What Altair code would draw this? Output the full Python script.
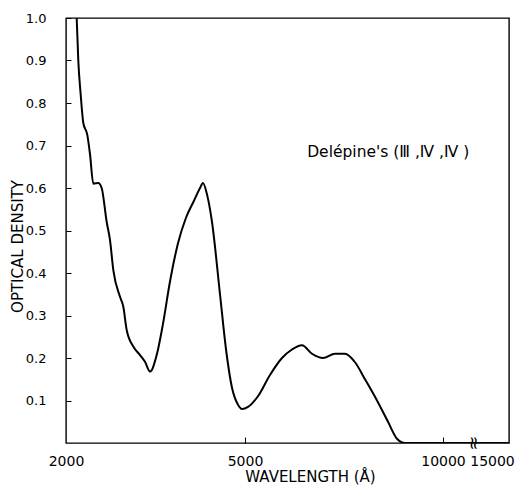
import altair as alt
import pandas as pd

# Spectrum
wavelength = [2179, 2206, 2246, 2290, 2357, 2402, 2458, 2541, 2598, 2682, 2737,
              2793, 2905, 2960, 3017, 3128, 3240, 3324, 3408, 3525, 3625, 3743,
              3877, 4011, 4145, 4246, 4296, 4363, 4447, 4581, 4682, 4782, 4883,
              4950, 5076, 5328, 5631, 5934, 6187, 6439, 6692, 6970, 7273, 7525,
              7778, 8030, 8333, 8611, 8838, 9040, 10000, 13000, 16000]
density = [1.00, 0.90, 0.82, 0.753, 0.725, 0.68, 0.61, 0.612, 0.60, 0.52, 0.478,
           0.407, 0.344, 0.321, 0.266, 0.227, 0.207, 0.191, 0.168, 0.21, 0.28, 0.38,
           0.47, 0.53, 0.57, 0.60, 0.612, 0.585, 0.52, 0.35, 0.22, 0.13, 0.09,
           0.08, 0.085, 0.11, 0.16, 0.20, 0.22, 0.23, 0.21, 0.20, 0.21, 0.21,
           0.19, 0.15, 0.10, 0.05, 0.01, 0.0, 0.0, 0.0, 0.0]

x_tick_values = [2000, 5000, 10000, 15000]
y_tick_values = [0.1, 0.2, 0.3, 0.4, 0.5, 0.6, 0.7, 0.8, 0.9, 1.0]
annotation = "Delépine's (Ⅲ ,Ⅳ ,Ⅳ )"
break_symbol = "≈"

df = pd.DataFrame({"wl": wavelength, "od": density})
ann = pd.DataFrame({"wl": [6570], "od": [0.685], "t": [annotation]})
brk = pd.DataFrame({"wl": [13060], "od": [0.0], "t": [break_symbol]})

FONT = "DejaVu Sans"
W, H = 443, 425

# broken wavelength axis: piecewise linear
x_scale = alt.Scale(domain=[2000, 5000, 10000, 15000, 16000],
                    range=[0, 179, 377, 426, W], nice=False, zero=False)
y_scale = alt.Scale(domain=[0, 1], nice=False)

x_axis = alt.Axis(
    values=x_tick_values,
    labelExpr="format(datum.value, 'd')",
    domain=False, grid=False,
    tickSize=6, offset=-6, tickColor="black",
    tickOpacity={"condition": {"test": "datum.value > 11000 || datum.value < 2500", "value": 0}, "value": 1},
    labelPadding=11, labelFontSize=14, labelFont=FONT, labelColor="black",
    labelFlush=False,
    title="WAVELENGTH (Å)", titleFont=FONT, titleFontSize=15, titleFontWeight="normal",
    titleColor="black", titlePadding=1, titleX=244,
)
y_axis = alt.Axis(
    values=y_tick_values, format=".1f",
    domain=False, grid=False,
    tickSize=5, offset=-5, tickColor="black",
    labelPadding=20, labelFontSize=13, labelFont=FONT, labelColor="black",
    title="OPTICAL DENSITY", titleFont=FONT, titleFontSize=15, titleFontWeight="normal",
    titleColor="black", titlePadding=0, titleY=228,
)

line = alt.Chart(df).mark_line(color="black", strokeWidth=2, clip=True, interpolate="monotone").encode(
    x=alt.X("wl:Q", scale=x_scale, axis=x_axis),
    y=alt.Y("od:Q", scale=y_scale, axis=y_axis),
)

label = alt.Chart(ann).mark_text(align="left", baseline="middle", font=FONT, fontSize=15.5, color="black").encode(
    x=alt.X("wl:Q", scale=x_scale), y=alt.Y("od:Q", scale=y_scale), text="t:N"
)

brk_mark = alt.Chart(brk).mark_text(align="center", baseline="middle", font=FONT, fontSize=18, angle=90, color="black").encode(
    x=alt.X("wl:Q", scale=x_scale), y=alt.Y("od:Q", scale=y_scale), text="t:N"
)

chart = alt.layer(line, label, brk_mark).properties(
    width=W, height=H,
    autosize=alt.AutoSizeParams(type="none"),
    padding={"left": 66, "top": 18, "right": 6, "bottom": 44},
    background="white",
).configure_view(stroke="black", strokeWidth=1.4)

chart.save("out.html", embed_options={"renderer": "svg", "actions": False})
